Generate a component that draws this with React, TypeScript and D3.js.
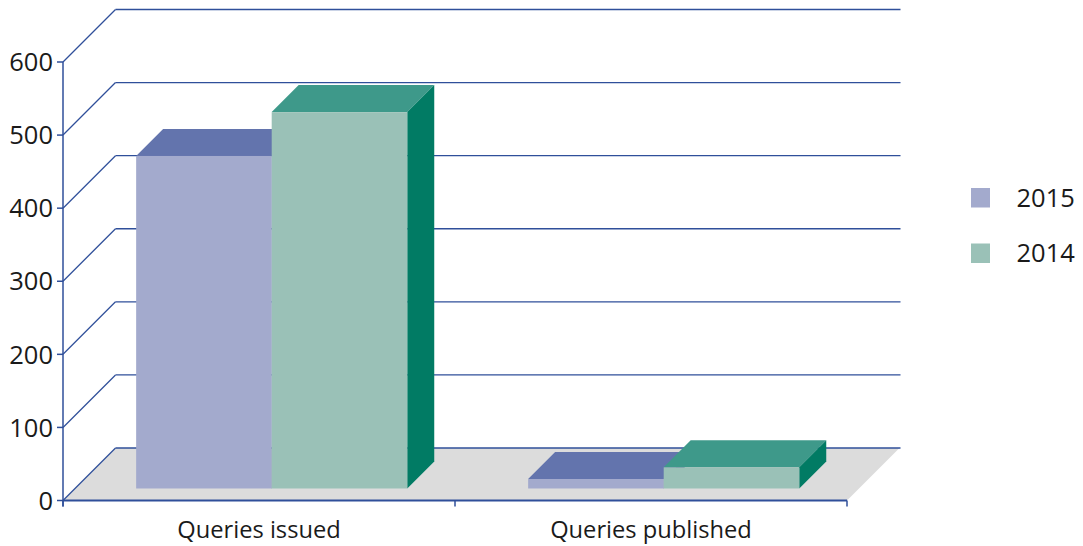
import React from "react";
import * as d3 from "d3";

const categories = ["Queries issued", "Queries published"];
const seriesNames = ["2015", "2014"];
const values2015 = [455, 13];
const values2014 = [515, 29];
const yTicks = [0, 100, 200, 300, 400, 500, 600];

const width = 1083;
const height = 546;
const axisColor = "#2f4f9a";
const font = "'Open Sans', sans-serif";
const depth = 52.5; // wall offset of the fake 3d
const barDepth = 27;
const barOffset = 12;

const colors: Record<string, { front: string; top: string; side: string }> = {
	"2015": { front: "#a3aacd", top: "#6374ad", side: "#4a5c9a" },
	"2014": { front: "#9ac1b7", top: "#3e998a", side: "#017b64" },
};

const seriesValues: Record<string, number[]> = { "2015": values2015, "2014": values2014 };

const x = d3.scaleBand<string>().domain(categories).range([63, 847]);
const inner = d3
	.scaleBand<string>()
	.domain(seriesNames)
	.range([0.7, x.bandwidth() + 0.7])
	.paddingInner(0)
	.paddingOuter(0.446);
const y = d3.scaleLinear().domain([0, 600]).range([500.5, 62]);
const legendY = d3.scalePoint<string>().domain(seriesNames).range([197.5, 253]);

function poly(pts: [number, number][]) {
	return d3.line()(pts) + "Z";
}

export default function App() {
	const y0 = y(0);
	const left = x.range()[0];
	const right = x.range()[1];

	return (
		<svg width={width} height={height} style={{ position: "absolute", left: 0, top: 0 }}>
			{/* floor */}
			<path
				d={poly([
					[left, y0],
					[right, y0],
					[right + depth, y0 - depth],
					[left + depth, y0 - depth],
				])}
				fill="#dcdcdc"
			/>

			{/* gridlines on back wall and left wall */}
			{yTicks.map((t) => (
				<g key={t} fill="none" stroke={axisColor} strokeWidth={1.3}>
					<line x1={left} y1={y(t)} x2={left + depth} y2={y(t) - depth} />
					<line x1={left + depth} y1={y(t) - depth} x2={right + depth + 1} y2={y(t) - depth} />
					<line x1={left - 6} y1={y(t)} x2={left} y2={y(t)} strokeWidth={1.5} />
				</g>
			))}

			{/* axes */}
			<line x1={left} y1={y(600)} x2={left} y2={y0 + 6} stroke={axisColor} strokeWidth={1.5} />
			<line x1={left} y1={y0} x2={right} y2={y0} stroke={axisColor} strokeWidth={2} />
			{[left, x(categories[1])!, right].map((d) => (
				<line key={d} x1={d} y1={y0} x2={d} y2={y0 + 6} stroke={axisColor} strokeWidth={1.5} />
			))}

			{/* bars */}
			{categories.map((c, i) =>
				seriesNames.map((s) => {
					const x0 = x(c)! + inner(s)! + barOffset;
					const x1 = x0 + inner.bandwidth();
					const bottom = y0 - barOffset;
					const top = bottom - (y0 - y(seriesValues[s][i]));
					const col = colors[s];
					return (
						<g key={c + s}>
							<path
								d={poly([
									[x0, top],
									[x1, top],
									[x1 + barDepth, top - barDepth],
									[x0 + barDepth, top - barDepth],
								])}
								fill={col.top}
							/>
							<path
								d={poly([
									[x1, top],
									[x1 + barDepth, top - barDepth],
									[x1 + barDepth, bottom - barDepth],
									[x1, bottom],
								])}
								fill={col.side}
							/>
							<rect x={x0} y={top} width={x1 - x0} height={bottom - top} fill={col.front} />
						</g>
					);
				})
			)}

			{/* tick labels */}
			<g fontFamily={font} fontWeight={400} fill="#1a1a1a">
				{yTicks.map((t) => (
					<text key={t} x={53} y={y(t)} dy="0.36em" textAnchor="end" fontSize={25.5}>
						{t}
					</text>
				))}
				{categories.map((c) => (
					<text key={c} x={x(c)! + x.bandwidth() / 2} y={538} textAnchor="middle" fontSize={23.7}>
						{c}
					</text>
				))}
				{seriesNames.map((s) => (
					<g key={s}>
						<rect x={971} y={legendY(s)! - 9.5} width={19} height={19.5} fill={colors[s].front} />
						<text x={1016.5} y={legendY(s)!} dy="0.36em" fontSize={25.5}>
							{s}
						</text>
					</g>
				))}
			</g>
		</svg>
	);
}
